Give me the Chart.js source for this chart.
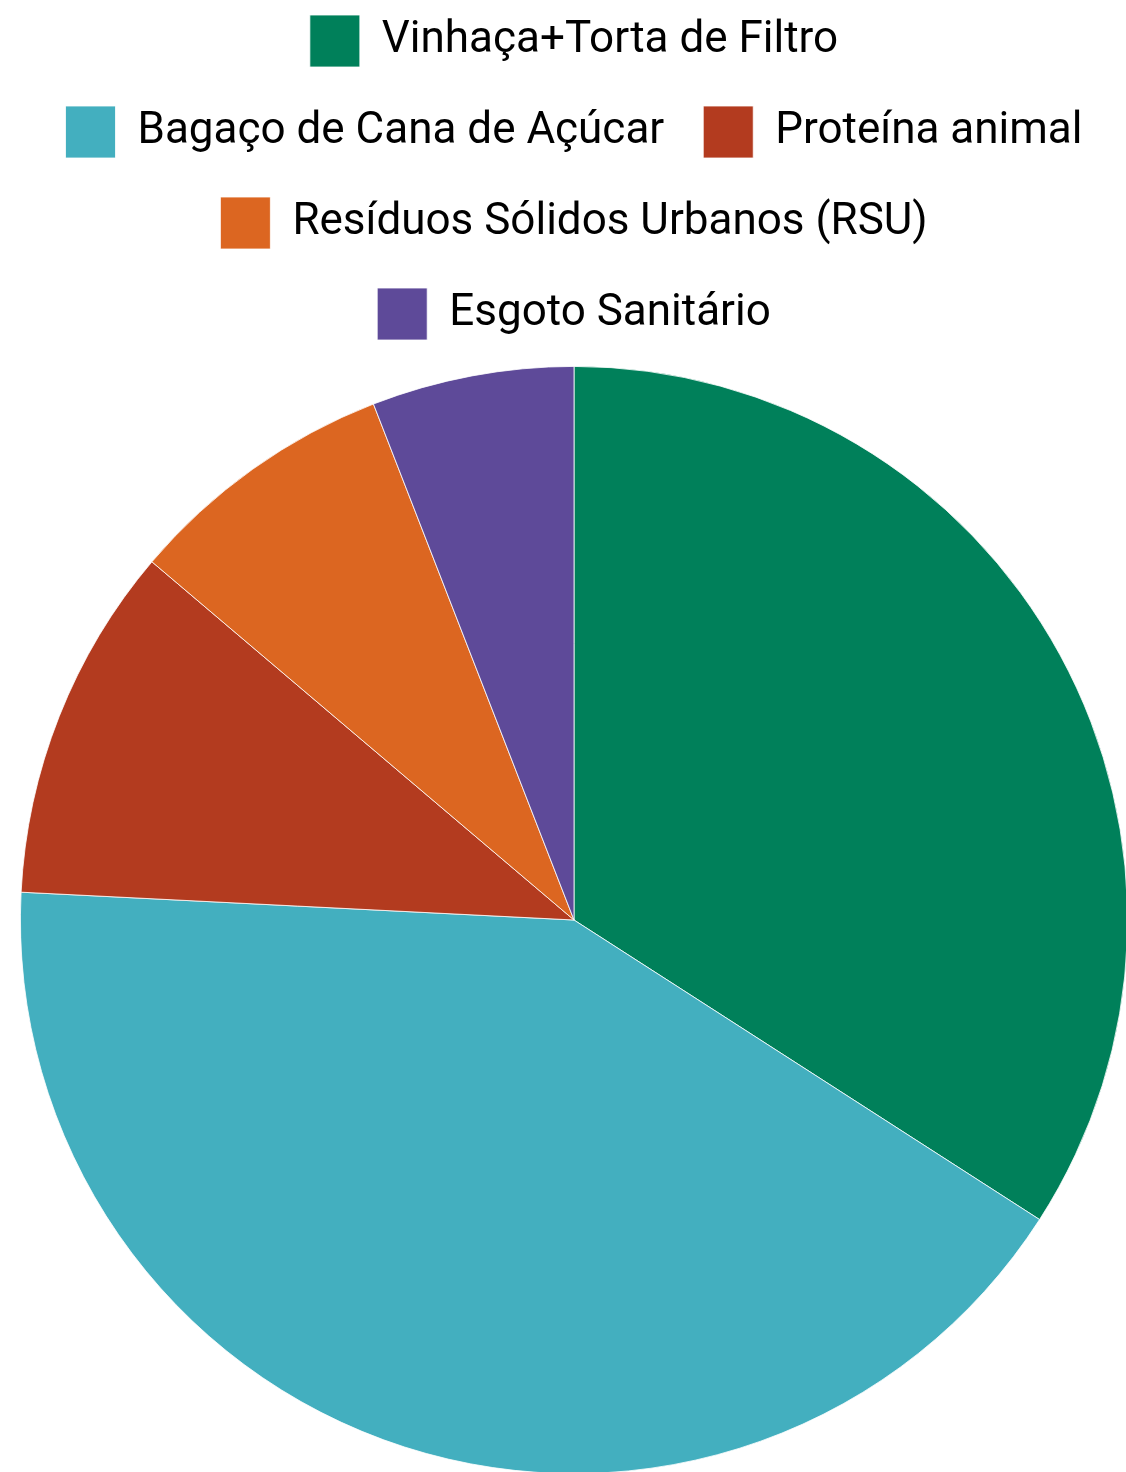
<!DOCTYPE html>
<html>
<head>
<meta charset="utf-8">
<script src="https://cdn.jsdelivr.net/npm/chart.js@4/dist/chart.umd.min.js"></script>
<style>
  html, body { margin: 0; padding: 0; background: #fff; overflow: hidden; }
  #wrap { position: absolute; left: 20px; top: -24px; width: 1108px; height: 1514px; }
</style>
</head>
<body>
<div id="wrap"><canvas id="grafico"></canvas></div>
<script>
// fontes de biogás (% do potencial)
var categorias = ['Vinhaça+Torta de Filtro', 'Bagaço de Cana de Açúcar', 'Proteína animal', 'Resíduos Sólidos Urbanos (RSU)', 'Esgoto Sanitário'];
var valores = [34.1, 41.7, 10.4, 7.9, 5.9];
var cores = ['#00805A', '#43AFBF', '#B33B1F', '#DC6621', '#5E4A99'];

var ctx = document.getElementById('grafico').getContext('2d');
window.myPie = new Chart(ctx, {
    type: 'pie',
    data: {
        labels: categorias,
        datasets: [{
            data: valores,
            backgroundColor: cores,
            borderColor: '#fff',
            borderWidth: 0.8
        }]
    },
    options: {
        responsive: true,
        maintainAspectRatio: false,
        animation: false,
        layout: { padding: 0 },
        plugins: {
            legend: {
                position: 'top',
                labels: {
                    boxWidth: 50,
                    boxHeight: 52,
                    padding: 39,
                    color: '#000',
                    font: { family: 'Roboto', size: 44 }
                }
            },
            tooltip: { enabled: false }
        }
    }
});
</script>
</body>
</html>
